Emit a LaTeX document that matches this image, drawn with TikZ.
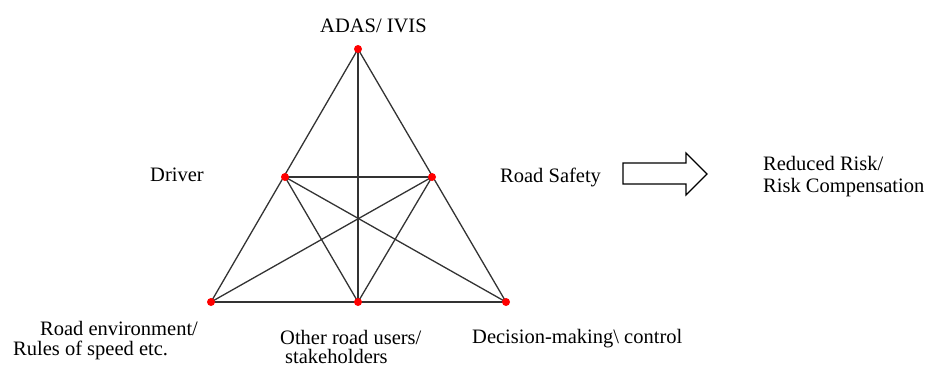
\documentclass[tikz,border=0pt]{standalone}
\usepackage{fontspec}
\setmainfont{Liberation Serif}
\begin{document}
\begin{tikzpicture}[x=1pt,y=-1pt,
  dot/.style={circle,fill=red,inner sep=0pt,minimum size=8pt},
  edge/.style={draw=black!80,line width=1.3pt},
  lbl/.style={font=\fontsize{20.5}{22}\selectfont,inner sep=0pt,text=black,anchor=base west}]
\useasboundingbox (0,0) rectangle (931,367);
\coordinate (T) at (358,49);
\coordinate (ML) at (285,177);
\coordinate (MR) at (432,177);
\coordinate (BL) at (211,302);
\coordinate (BM) at (358,302);
\coordinate (BR) at (506,302);
\draw[edge] (T) -- (BL);
\draw[edge] (T) -- (BR);
\draw[edge] (BL) -- (BR);
\draw[edge] (T) -- (BM);
\draw[edge] (ML) -- (MR);
\draw[edge] (ML) -- (BM);
\draw[edge] (MR) -- (BM);
\draw[edge] (ML) -- (BR);
\draw[edge] (MR) -- (BL);
\foreach \n in {T,ML,MR,BL,BM,BR} \node[dot] (d\n) at (\n) {};
\node[lbl] (adas) at (320,32) {ADAS/ IVIS};
\node[lbl] (driver) at (150,181) {Driver};
\node[lbl] (rs) at (500,182) {Road Safety};
\draw[line width=1.2pt,fill=white,line join=miter] (623,163) coordinate (a1) -- (686,163) -- (686,153) -- (707,174) -- (686,195) -- (686,184) -- (623,184) -- cycle;
\node[lbl] (rr1) at (763,170) {Reduced Risk/};
\node[lbl] (rr2) at (763,192) {Risk Compensation};
\node[lbl] (re1) at (40,335) {Road environment/};
\node[lbl] (re2) at (13,355) {Rules of speed etc.};
\node[lbl] (or1) at (280,344) {Other road users/};
\node[lbl] (or2) at (285,363) {stakeholders};
\node[lbl] (dm) at (472,343) {Decision-making\textbackslash{} control};
\end{tikzpicture}
\end{document}
